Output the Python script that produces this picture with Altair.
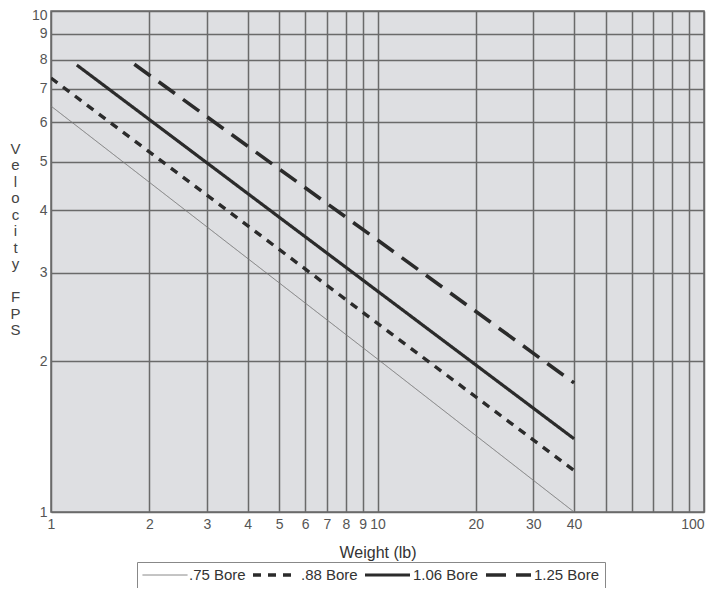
import altair as alt
import pandas as pd

series = [".75 Bore", ".88 Bore", "1.06 Bore", "1.25 Bore"]
x_start = [1.0, 1.0, 1.2, 1.8]
x_mid = [10, 10, 10, 10]
x_end = [40, 40, 40, 40]
v_start = [6.46, 7.35, 7.80, 7.83]
v_mid = [2.02, 2.38, 2.76, 3.49]
v_end = [1.00, 1.21, 1.40, 1.81]

x_ticks = [1, 2, 3, 4, 5, 6, 7, 8, 9, 10, 20, 30, 40, 50, 60, 70, 80, 90, 100]
y_ticks = [1, 2, 3, 4, 5, 6, 7, 8, 9, 10]
y_title = ["V", "e", "l", "o", "c", "i", "t", "y", "\u2800", "F", "P", "S"]

rows = []
for i, s in enumerate(series):
    for k, (xx, vv) in enumerate([(x_start[i], v_start[i]), (x_mid[i], v_mid[i]), (x_end[i], v_end[i])]):
        rows.append({"series": s, "weight": xx, "velocity": vv, "order": k})
df = pd.DataFrame(rows)

FONT = "Liberation Sans"
legend = alt.Legend(
    title=None, orient="none", legendX=86, legendY=551, direction="horizontal",
    symbolType="stroke", symbolSize=2025, clipHeight=16, labelFontSize=15, labelFont=FONT,
    labelColor="#333", labelLimit=200, labelOffset=1, columnPadding=5,
    padding=5, strokeColor="#888", fillColor="white", symbolStrokeColor="#2b2b2b",
)

chart = alt.Chart(df).mark_line(clip=True).encode(
    x=alt.X("weight:Q", scale=alt.Scale(type="log", domain=[1, 100]),
            axis=alt.Axis(values=x_ticks, title="Weight (lb)", labelOverlap=False,
                          labelFlush=False, ticks=False, domain=False,
                          labelExpr="indexof([50,60,70,80,90], datum.value) >= 0 ? '' : datum.label",
                          labelAlign={"condition": {"test": "datum.value == 100", "value": "right"}, "value": "center"},
                          labelFontSize=14, labelColor="#555", labelFont=FONT, labelPadding=5,
                          titleFontSize=16, titleFont=FONT, titleFontWeight="normal",
                          titleColor="#333", titlePadding=13,
                          gridColor="#6a6a6a", gridWidth=1.5, gridOpacity=1)),
    y=alt.Y("velocity:Q", scale=alt.Scale(type="log", domain=[1, 10]),
            axis=alt.Axis(values=y_ticks, title=y_title,
                          labelOverlap=False, ticks=False, domain=False,
                          labelBaseline={"condition": {"test": "datum.value == 10", "value": "line-top"}, "value": "middle"},
                          labelLineHeight=8,
                          labelFontSize=14, labelColor="#555", labelFont=FONT, labelPadding=4,
                          titleAngle=0, titleAlign="center", titleBaseline="top",
                          titleX=-36, titleY=130, titleLineHeight=16.5,
                          titleFontSize=15, titleFont=FONT, titleFontWeight="normal",
                          titleColor="#444",
                          gridColor="#6a6a6a", gridWidth=1.5, gridOpacity=1)),
    color=alt.Color("series:N", scale=alt.Scale(domain=series, range=["#7a7a7a", "#2b2b2b", "#2b2b2b", "#2b2b2b"]), legend=legend),
    strokeDash=alt.StrokeDash("series:N", scale=alt.Scale(domain=series, range=[[1, 0], [8, 7], [1, 0], [20, 10]]), legend=legend),
    strokeWidth=alt.StrokeWidth("series:N", scale=alt.Scale(type="ordinal", domain=series, range=[1, 3.4, 3.2, 3.6]), legend=legend),
    order="order:Q",
).properties(
    width=653, height=501,
    autosize=alt.AutoSizeParams(type="none"),
    padding={"left": 43, "top": 3, "right": 4, "bottom": 76},
).configure_view(
    fill="#dedfe2", stroke="#6a6a6a", strokeWidth=1.5
)

chart.save("out.html", embed_options={"renderer": "svg", "actions": False})
